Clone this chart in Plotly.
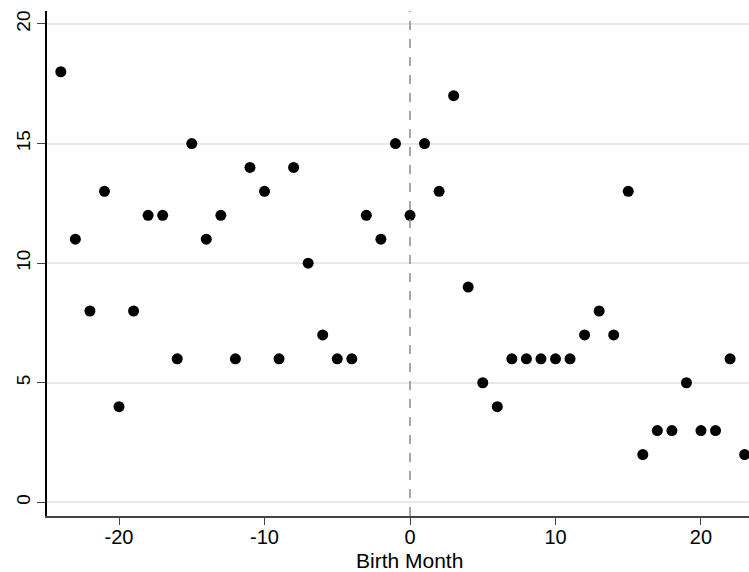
import plotly.graph_objects as go

# Birth month relative to cutoff and count per month
birth_month = list(range(-24, 24))
counts = [18, 11, 8, 13, 4, 8, 12, 12, 6, 15, 11, 12, 6, 14, 13, 6, 14, 10, 7, 6,
          6, 12, 11, 15, 12, 15, 13, 17, 9, 5, 4, 6, 6, 6, 6, 6, 7, 8, 7, 13,
          2, 3, 3, 5, 3, 3, 6, 2]

x_ticks = [-20, -10, 0, 10, 20]
x_tick_text = ["-20", "-10", "0", "10", "20"]
y_ticks = [0, 5, 10, 15, 20]

fig = go.Figure()
fig.add_trace(go.Scatter(
    x=birth_month, y=counts, mode="markers",
    marker=dict(color="black", size=11, line=dict(width=0)),
    showlegend=False,
))

fig.add_vline(x=0, line=dict(color="#8a8a8a", width=1.5, dash="dash"))

family = "Liberation Sans, Arial, sans-serif"
x_font = dict(family=family, size=20, color="black")
y_font = dict(family=family, size=19, color="black")
title_font = dict(family=family, size=21, color="black")

# x-axis title placed just beneath the tick labels
fig.add_annotation(
    text="Birth Month", xref="paper", yref="paper",
    x=0.517, y=-0.0891, xanchor="center", yanchor="middle",
    showarrow=False, font=title_font,
)

fig.update_layout(
    width=749, height=572,
    margin=dict(l=47, r=0, t=11, b=56),
    paper_bgcolor="white", plot_bgcolor="white",
    font=x_font,
    xaxis=dict(
        range=[-24.95, 23.3], tickvals=x_ticks, ticktext=x_tick_text,
        tickfont=x_font, ticklabelstandoff=-5,
        showgrid=False, zeroline=False,
        showline=True, linecolor="#444444", linewidth=1.5,
        ticks="outside", ticklen=7, tickcolor="#444444", tickwidth=1.2,
    ),
    yaxis=dict(
        range=[-0.57, 20.54], tickvals=y_ticks, tickfont=y_font,
        showgrid=True, gridcolor="#e8e8e8", gridwidth=1.5,
        zeroline=False,
        showline=True, linecolor="black", linewidth=1.5,
        ticks="outside", ticklen=8, tickcolor="#444444", tickwidth=1.2,
        tickangle=-90,
    ),
)

fig.write_html("out.html")
